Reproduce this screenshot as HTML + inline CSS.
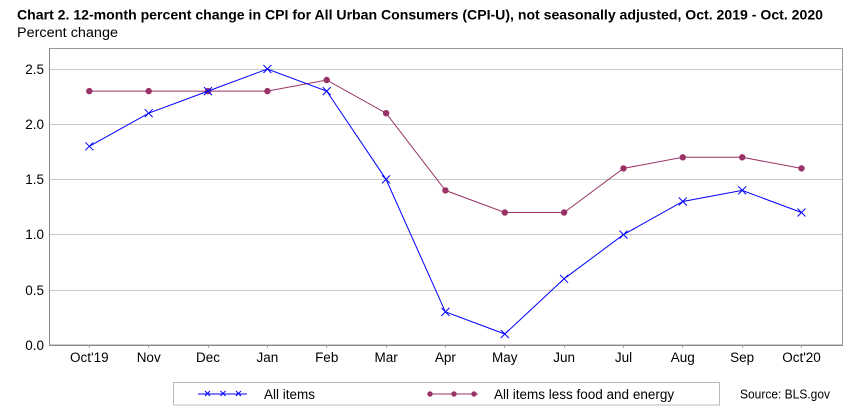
<!DOCTYPE html>
<html>
<head>
<meta charset="utf-8">
<style>
html,body{margin:0;padding:0;background:#fff;}
svg{display:block;}
text{font-family:"Liberation Sans",Arial,sans-serif;fill:#000;}
</style>
</head>
<body>
<svg width="852" height="420" viewBox="0 0 852 420" xmlns="http://www.w3.org/2000/svg">
  <rect x="0" y="0" width="852" height="420" fill="#fff"/>
  <!-- Title -->
  <text x="17" y="19.5" font-size="13.5" font-weight="bold" textLength="806" lengthAdjust="spacingAndGlyphs">Chart 2. 12-month percent change in CPI for All Urban Consumers (CPI-U), not seasonally adjusted, Oct. 2019 - Oct. 2020</text>
  <text x="17" y="37" font-size="13.5" textLength="101" lengthAdjust="spacingAndGlyphs">Percent change</text>

  <!-- gridlines -->
  <g stroke="#c8c8c8" stroke-width="1">
    <line x1="49" y1="69.5" x2="843" y2="69.5"/>
    <line x1="49" y1="124.5" x2="843" y2="124.5"/>
    <line x1="49" y1="179.5" x2="843" y2="179.5"/>
    <line x1="49" y1="234.5" x2="843" y2="234.5"/>
    <line x1="49" y1="290.5" x2="843" y2="290.5"/>
  </g>
  <!-- plot border -->
  <rect x="49.5" y="48.5" width="793" height="296.5" fill="none" stroke="#999" stroke-width="1"/>
  <line x1="49.5" y1="48" x2="49.5" y2="345.5" stroke="#888" stroke-width="1"/>
  <line x1="49" y1="345.5" x2="843" y2="345.5" stroke="#888" stroke-width="1"/>

  <!-- y tick labels -->
  <g font-size="13.5" text-anchor="end">
    <text x="44" y="74">2.5</text>
    <text x="44" y="129">2.0</text>
    <text x="44" y="184">1.5</text>
    <text x="44" y="239">1.0</text>
    <text x="44" y="295">0.5</text>
    <text x="44" y="350">0.0</text>
  </g>

  <!-- x ticks -->
  <g stroke="#aaa" stroke-width="1">
    <line x1="89.5" y1="346" x2="89.5" y2="348"/>
    <line x1="148.5" y1="346" x2="148.5" y2="348"/>
    <line x1="208.5" y1="346" x2="208.5" y2="348"/>
    <line x1="267.5" y1="346" x2="267.5" y2="348"/>
    <line x1="326.5" y1="346" x2="326.5" y2="348"/>
    <line x1="386.5" y1="346" x2="386.5" y2="348"/>
    <line x1="445.5" y1="346" x2="445.5" y2="348"/>
    <line x1="504.5" y1="346" x2="504.5" y2="348"/>
    <line x1="564.5" y1="346" x2="564.5" y2="348"/>
    <line x1="623.5" y1="346" x2="623.5" y2="348"/>
    <line x1="682.5" y1="346" x2="682.5" y2="348"/>
    <line x1="742.5" y1="346" x2="742.5" y2="348"/>
    <line x1="801.5" y1="346" x2="801.5" y2="348"/>
  </g>
  <!-- x labels -->
  <g font-size="13.5" text-anchor="middle">
    <text x="89.3" y="362">Oct'19</text>
    <text x="148.7" y="362">Nov</text>
    <text x="208" y="362">Dec</text>
    <text x="267.4" y="362">Jan</text>
    <text x="326.7" y="362">Feb</text>
    <text x="386.1" y="362">Mar</text>
    <text x="445.4" y="362">Apr</text>
    <text x="504.8" y="362">May</text>
    <text x="564.1" y="362">Jun</text>
    <text x="623.5" y="362">Jul</text>
    <text x="682.8" y="362">Aug</text>
    <text x="742.2" y="362">Sep</text>
    <text x="801.5" y="362">Oct'20</text>
  </g>

  <!-- Core series (maroon) -->
  <polyline fill="none" stroke="#993366" stroke-width="1"
    points="89.3,91.1 148.7,91.1 208,91.1 267.4,91.1 326.7,80 386.1,113.2 445.4,190.4 504.8,212.5 564.1,212.5 623.5,168.4 682.8,157.3 742.2,157.3 801.5,168.4"/>
  <g fill="#993366">
    <circle cx="89.3" cy="91.1" r="3.2"/>
    <circle cx="148.7" cy="91.1" r="3.2"/>
    <circle cx="208" cy="91.1" r="3.2"/>
    <circle cx="267.4" cy="91.1" r="3.2"/>
    <circle cx="326.7" cy="80" r="3.2"/>
    <circle cx="386.1" cy="113.2" r="3.2"/>
    <circle cx="445.4" cy="190.4" r="3.2"/>
    <circle cx="504.8" cy="212.5" r="3.2"/>
    <circle cx="564.1" cy="212.5" r="3.2"/>
    <circle cx="623.5" cy="168.4" r="3.2"/>
    <circle cx="682.8" cy="157.3" r="3.2"/>
    <circle cx="742.2" cy="157.3" r="3.2"/>
    <circle cx="801.5" cy="168.4" r="3.2"/>
  </g>

  <!-- All items (blue) -->
  <polyline fill="none" stroke="#0000ff" stroke-width="1"
    points="89.3,146.3 148.7,113.2 208,91.1 267.4,69 326.7,91.1 386.1,179.4 445.4,311.9 504.8,334 564.1,278.8 623.5,234.6 682.8,201.5 742.2,190.4 801.5,212.5"/>
  <g stroke="#0000ff" stroke-width="1" fill="none">
    <path d="M85.3,142.3l8,8m0,-8l-8,8"/>
    <path d="M144.7,109.2l8,8m0,-8l-8,8"/>
    <path d="M204,87.1l8,8m0,-8l-8,8"/>
    <path d="M263.4,65l8,8m0,-8l-8,8"/>
    <path d="M322.7,87.1l8,8m0,-8l-8,8"/>
    <path d="M382.1,175.4l8,8m0,-8l-8,8"/>
    <path d="M441.4,307.9l8,8m0,-8l-8,8"/>
    <path d="M500.8,330l8,8m0,-8l-8,8"/>
    <path d="M560.1,274.8l8,8m0,-8l-8,8"/>
    <path d="M619.5,230.6l8,8m0,-8l-8,8"/>
    <path d="M678.8,197.5l8,8m0,-8l-8,8"/>
    <path d="M738.2,186.4l8,8m0,-8l-8,8"/>
    <path d="M797.5,208.5l8,8m0,-8l-8,8"/>
  </g>

  <!-- Legend -->
  <rect x="173.5" y="382.5" width="546" height="22.5" fill="#fff" stroke="#bbb" stroke-width="1"/>
  <line x1="198" y1="394" x2="247" y2="394" stroke="#0000ff" stroke-width="1"/>
  <g stroke="#0000ff" stroke-width="1" fill="none">
    <path d="M205,391l5,5m0,-5l-5,5"/>
    <path d="M220.5,391l5,5m0,-5l-5,5"/>
    <path d="M236,391l5,5m0,-5l-5,5"/>
  </g>
  <text x="264" y="399" font-size="13.5">All items</text>
  <line x1="429" y1="394" x2="478" y2="394" stroke="#993366" stroke-width="1"/>
  <g fill="#993366">
    <circle cx="430" cy="394" r="2.7"/>
    <circle cx="454" cy="394" r="2.7"/>
    <circle cx="474" cy="394" r="2.7"/>
  </g>
  <text x="494" y="399" font-size="13.5">All items less food and energy</text>

  <text x="740" y="398.5" font-size="12.5" textLength="90" lengthAdjust="spacingAndGlyphs">Source: BLS.gov</text>
</svg>
</body>
</html>
